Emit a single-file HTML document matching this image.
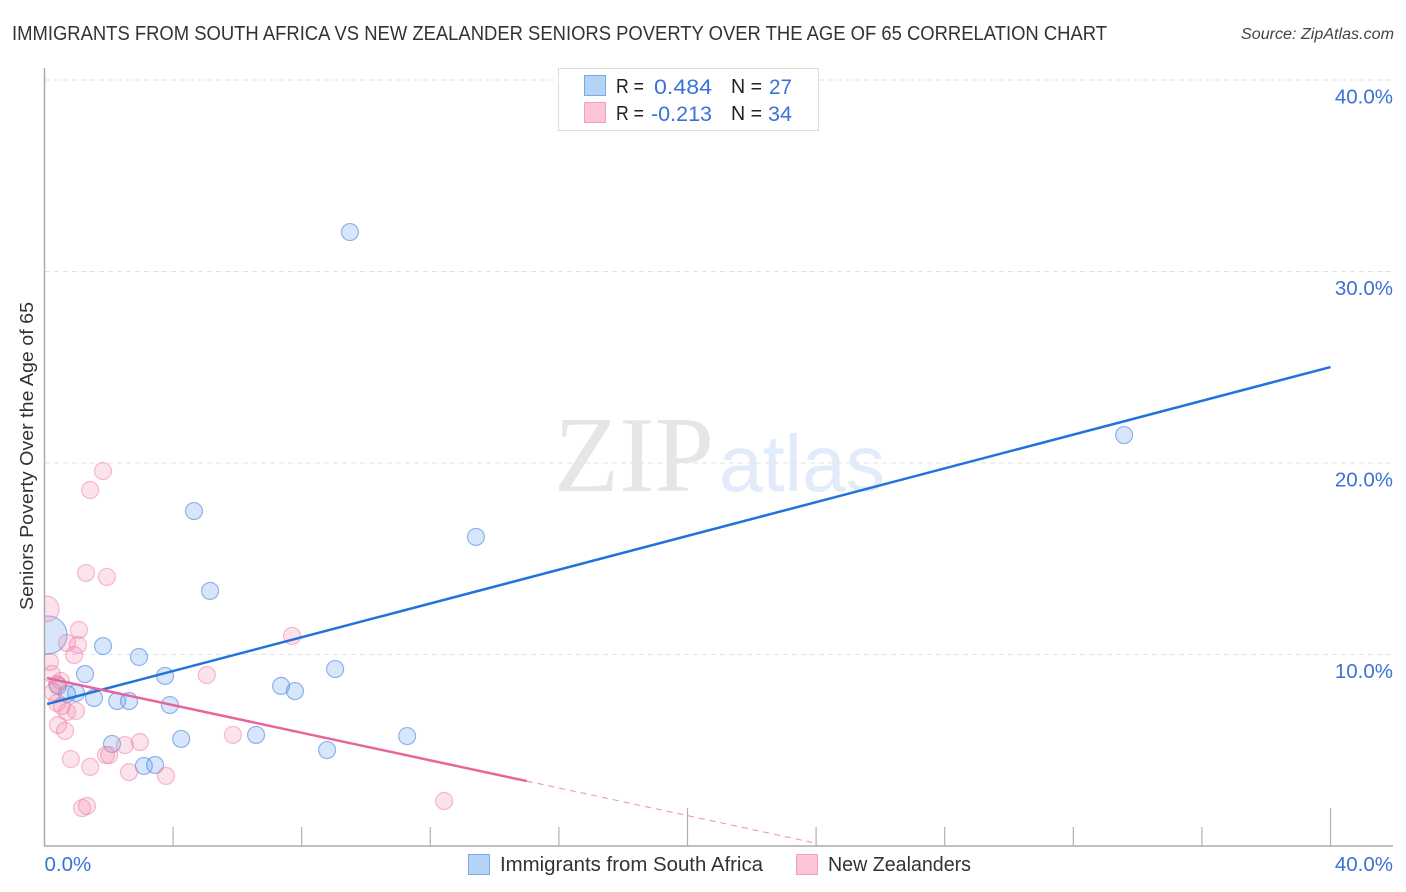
<!DOCTYPE html>
<html>
<head>
<meta charset="utf-8">
<title>Correlation chart</title>
<style>
html,body{margin:0;padding:0;background:#fff;}
svg{display:block;font-family:"Liberation Sans",sans-serif;}
</style>
</head>
<body>
<svg id="chart" width="1406" height="892" viewBox="0 0 1406 892" xmlns="http://www.w3.org/2000/svg">
  <defs>
    <clipPath id="plot-clip"><rect x="44.5" y="60" width="1350" height="786"/></clipPath>
  </defs>
  <text x="12" y="40" font-size="20" fill="#333" textLength="1095" lengthAdjust="spacingAndGlyphs">IMMIGRANTS FROM SOUTH AFRICA VS NEW ZEALANDER SENIORS POVERTY OVER THE AGE OF 65 CORRELATION CHART</text>
  <text x="1241" y="39" font-size="15.5" font-style="italic" fill="#444" textLength="153" lengthAdjust="spacingAndGlyphs">Source: ZipAtlas.com</text>
  <text x="554" y="491" font-size="108" font-family="'Liberation Serif',serif" fill="#e6e6e6" textLength="160" lengthAdjust="spacingAndGlyphs">ZIP</text>
  <text x="719" y="491" font-size="80" font-family="'Liberation Sans',sans-serif" fill="#e2ebfa" textLength="166" lengthAdjust="spacingAndGlyphs">atlas</text>
  <g id="grid"></g>
  <g id="points" clip-path="url(#plot-clip)"></g>
  <rect x="0" y="590" width="44" height="110" fill="#fff"/>
  <g id="axes"></g>
  <g id="trends"></g>
  <g>
    <rect x="558.5" y="68.5" width="260" height="62" fill="#fff" stroke="#dcdcdc" stroke-width="1"/>
    <rect x="584.5" y="75.5" width="21" height="20" fill="#b5d2f7" stroke="#79aae8" stroke-width="1"/>
    <rect x="584.5" y="102.5" width="21" height="20" fill="#fcc5d7" stroke="#f3a0bc" stroke-width="1"/>
    <g font-size="20" fill="#222">
      <text x="616" y="93" textLength="28" lengthAdjust="spacingAndGlyphs">R =</text>
      <text x="731" y="93" textLength="31" lengthAdjust="spacingAndGlyphs">N =</text>
      <text x="616" y="120" textLength="28" lengthAdjust="spacingAndGlyphs">R =</text>
      <text x="731" y="120" textLength="31" lengthAdjust="spacingAndGlyphs">N =</text>
    </g>
    <g font-size="21" fill="#3a72d6">
      <text x="654" y="94" textLength="58" lengthAdjust="spacingAndGlyphs">0.484</text>
      <text x="769" y="94" textLength="23" lengthAdjust="spacingAndGlyphs">27</text>
      <text x="651" y="121" textLength="61" lengthAdjust="spacingAndGlyphs">-0.213</text>
      <text x="768" y="121" textLength="24" lengthAdjust="spacingAndGlyphs">34</text>
    </g>
  </g>
  <text transform="translate(33,610) rotate(-90)" font-size="18.5" fill="#333" textLength="308" lengthAdjust="spacingAndGlyphs">Seniors Poverty Over the Age of 65</text>
  <g>
    <rect x="468.5" y="854.5" width="21" height="20" fill="#b5d2f7" stroke="#79aae8" stroke-width="1"/>
    <text x="500" y="871" font-size="20" fill="#333" textLength="263" lengthAdjust="spacingAndGlyphs">Immigrants from South Africa</text>
    <rect x="796.5" y="854.5" width="21" height="20" fill="#fcc5d7" stroke="#f3a0bc" stroke-width="1"/>
    <text x="828" y="871" font-size="20" fill="#333" textLength="143" lengthAdjust="spacingAndGlyphs">New Zealanders</text>
  </g>
</svg>
<script>
var yTickValues = [10, 20, 30, 40];
var yTickLabels = ["10.0%", "20.0%", "30.0%", "40.0%"];
var xTickValues = [0, 4, 8, 12, 16, 20, 24, 28, 32, 36, 40];
var xMajorTicks = [20, 40];
var xEndValues = [0, 40];
var xEndLabels = ["0.0%", "40.0%"];

var blueX = [9.50, 33.58, 13.42, 4.65, 5.15, 1.82, 2.94, 1.26, 3.75, 9.04, 7.36, 7.79, 0.42, 0.98, 0.70, 1.54, 2.26, 2.63, 3.90, 4.25, 6.58, 11.28, 2.10, 3.09, 3.44, 8.79, 0.11];
var blueY = [32.06, 21.46, 16.14, 17.49, 13.32, 10.44, 9.87, 8.98, 8.88, 9.24, 8.36, 8.09, 8.36, 7.99, 7.94, 7.73, 7.57, 7.57, 7.36, 5.59, 5.80, 5.74, 5.33, 4.18, 4.23, 5.01, 11.02];
var blueWeight = [1, 1, 1, 1, 1, 1, 1, 1, 1, 1, 1, 1, 1, 1, 1, 1, 1, 1, 1, 1, 1, 1, 1, 1, 1, 1, 5];

var pinkX = [1.82, 1.42, 1.29, 1.94, 0.05, 1.07, 0.70, 1.04, 0.92, 0.17, 0.23, 0.51, 0.39, 0.26, 0.39, 0.70, 0.98, 0.54, 0.42, 0.64, 0.82, 1.42, 2.63, 1.91, 2.01, 2.50, 2.97, 3.78, 5.05, 5.86, 7.70, 12.43, 1.17, 1.32];
var pinkY = [19.58, 18.59, 14.26, 14.05, 12.38, 11.28, 10.60, 10.50, 9.97, 9.61, 8.98, 8.62, 8.46, 8.04, 7.47, 7.00, 7.05, 7.31, 6.32, 6.01, 4.54, 4.13, 3.86, 4.75, 4.75, 5.27, 5.43, 3.66, 8.93, 5.80, 10.97, 2.35, 1.98, 2.09];
var pinkWeight = [1, 1, 1, 1, 2.34, 1, 1, 1, 1, 1, 1, 1, 1, 1, 1, 1, 1, 1, 1, 1, 1, 1, 1, 1, 1, 1, 1, 1, 1, 1, 1, 1, 1, 1];

var blueTrendX = [0.08, 40.0];
var blueTrendY = [7.41, 25.01];
var pinkTrendX = [0.08, 15.0];
var pinkTrendY = [8.77, 3.39];
var pinkDashX = [15.0, 23.96];
var pinkDashY = [3.39, 0.16];

var NS = "http://www.w3.org/2000/svg";
function xScale(v) { return 44.5 + v * 32.15; }
function yScale(v) { return 846 - v * 19.15; }
function rScale(w) { return 8.5 * Math.sqrt(w); }
function make(parent, tag, attrs) {
  var el = document.createElementNS(NS, tag);
  for (var k in attrs) { el.setAttribute(k, attrs[k]); }
  parent.appendChild(el);
  return el;
}

var grid = document.getElementById("grid");
var axes = document.getElementById("axes");
var points = document.getElementById("points");
var trends = document.getElementById("trends");

yTickValues.forEach(function (v, i) {
  var g = make(grid, "line", { x1: 45, x2: 1393, y1: yScale(v), y2: yScale(v), stroke: "#e2e2e2", "stroke-width": 1, "stroke-dasharray": "5 4" });
  
  
  var t = make(axes, "text", { x: 1393, y: yScale(v) + 23.5, "font-size": 20.5, fill: "#3a72d6", "text-anchor": "end" });
  
  
  t.textContent = yTickLabels[i];
});

var yAxis = make(axes, "line", { x1: 44.5, x2: 44.5, y1: 68, y2: 846, stroke: "#aaa", "stroke-width": 1.5 });


var xAxis = make(axes, "line", { x1: 44, x2: 1393, y1: 846, y2: 846, stroke: "#aaa", "stroke-width": 1.5 });



xTickValues.forEach(function (v) {
  if (v === 0) { return; }
  var top = xMajorTicks.indexOf(v) >= 0 ? 808 : 827;
  var tick = make(axes, "line", { x1: xScale(v), x2: xScale(v), y1: top, y2: 846, stroke: "#b0b0b0", "stroke-width": 1.2 });
  
  
});

xEndValues.forEach(function (v, i) {
  var attrs = i === 0
    ? { x: xScale(v), y: 871, "font-size": 20.5, fill: "#3a72d6" }
    : { x: 1393, y: 871, "font-size": 20.5, fill: "#3a72d6", "text-anchor": "end" };
  var t = make(axes, "text", attrs);
  
  
  t.textContent = xEndLabels[i];
});

blueX.forEach(function (v, i) {
  var c = make(points, "circle", { cx: xScale(v), cy: yScale(blueY[i]), r: rScale(blueWeight[i]), fill: "rgba(110,165,240,0.28)", stroke: "rgba(45,115,220,0.5)", "stroke-width": 1.2 });
  
  
});

pinkX.forEach(function (v, i) {
  var c = make(points, "circle", { cx: xScale(v), cy: yScale(pinkY[i]), r: rScale(pinkWeight[i]), fill: "rgba(245,140,175,0.25)", stroke: "rgba(235,100,150,0.42)", "stroke-width": 1.2 });
  
  
});

var blueLine = make(trends, "line", { x1: xScale(blueTrendX[0]), y1: yScale(blueTrendY[0]), x2: xScale(blueTrendX[1]), y2: yScale(blueTrendY[1]), stroke: "#2272dc", "stroke-width": 2.5 });


var pinkLine = make(trends, "line", { x1: xScale(pinkTrendX[0]), y1: yScale(pinkTrendY[0]), x2: xScale(pinkTrendX[1]), y2: yScale(pinkTrendY[1]), stroke: "#e8659c", "stroke-width": 2.5 });


var pinkDash = make(trends, "line", { x1: xScale(pinkDashX[0]), y1: yScale(pinkDashY[0]), x2: xScale(pinkDashX[1]), y2: yScale(pinkDashY[1]), stroke: "#e8659c", "stroke-opacity": 0.75, "stroke-width": 1, "stroke-dasharray": "6 5" });


</script>
</body>
</html>
